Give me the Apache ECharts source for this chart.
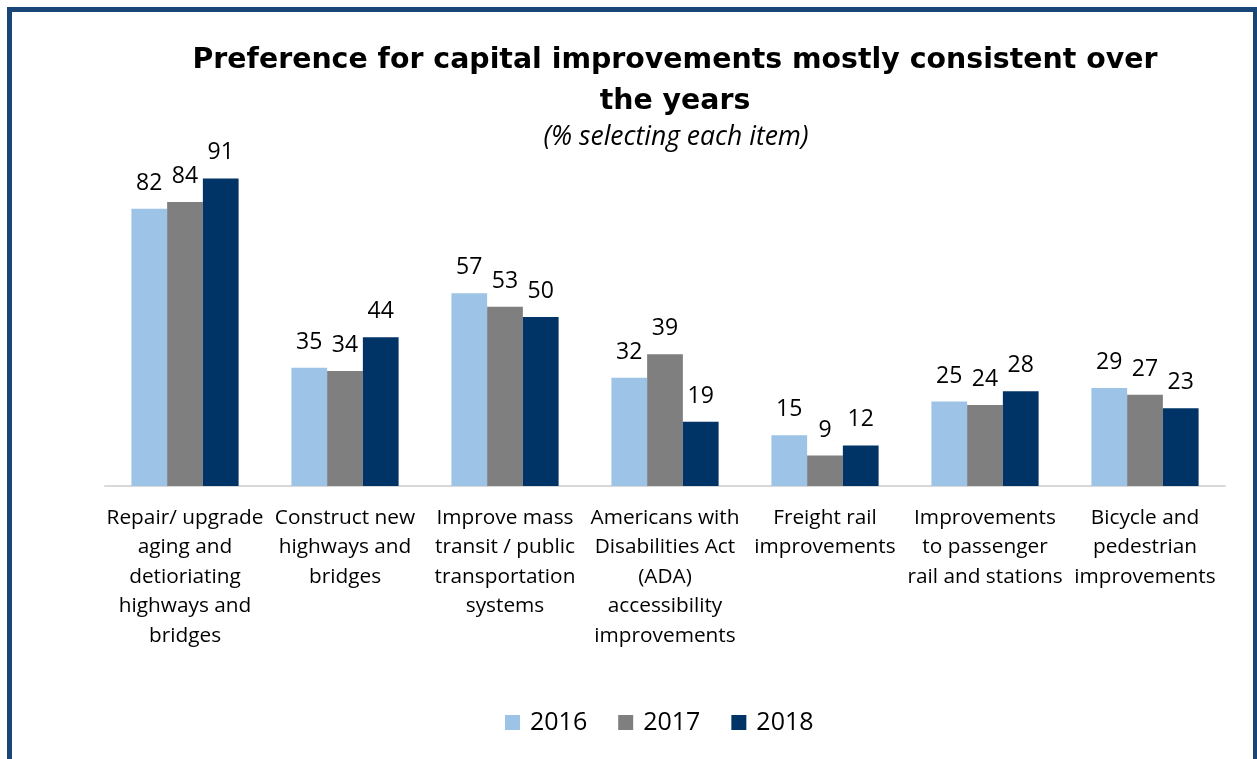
<html>
<head>
    <title></title>
    <meta charset="utf-8">
    <script src="https://cdn.jsdelivr.net/npm/echarts@6/dist/echarts.min.js" type="text/javascript"></script>
    <style>
        html, body { margin: 0; padding: 0; background: #fff; }
    </style>
</head>
<body>
    <div id="main" style="width: 1257px; height: 759px">
    </div>
    <script>
        var categories = [
            'Repair/ upgrade\naging and\ndetioriating\nhighways and\nbridges',
            'Construct new\nhighways and\nbridges',
            'Improve mass\ntransit / public\ntransportation\nsystems',
            'Americans with\nDisabilities Act\n(ADA)\naccessibility\nimprovements',
            'Freight rail\nimprovements',
            'Improvements\nto passenger\nrail and stations',
            'Bicycle and\npedestrian\nimprovements'
        ];
        var years = ['2016', '2017', '2018'];
        var data2016 = [82, 35, 57, 32, 15, 25, 29];
        var data2017 = [84, 34, 53, 39, 9, 24, 27];
        var data2018 = [91, 44, 50, 19, 12, 28, 23];
        var colors = ['#9DC3E6', '#7F7F7F', '#003366'];

        window.onload = function () {
            var myChart = echarts.init(document.getElementById('main'));

            var values = [data2016, data2017, data2018];
            var series = [];
            for (var i = 0; i < years.length; i++) {
                series.push({
                    name: years[i],
                    type: 'bar',
                    data: values[i],
                    barGap: '0%',
                    barCategoryGap: '33%',
                    itemStyle: { color: colors[i] },
                    label: {
                        show: true,
                        position: 'top',
                        distance: 14,
                        color: '#000',
                        fontSize: 23,
                        fontFamily: 'Open Sans'
                    }
                });
            }

            var option = {
                backgroundColor: '#fff',
                animation: false,
                title: [{
                    text: 'Preference for capital improvements mostly consistent over\nthe years',
                    left: 670,
                    top: 35,
                    textAlign: 'center',
                    textStyle: {
                        fontFamily: 'DejaVu Sans',
                        fontWeight: 'bold',
                        fontSize: 28.4,
                        lineHeight: 41,
                        color: '#000'
                    }
                }, {
                    text: '(% selecting each item)',
                    left: 671,
                    top: 119,
                    textAlign: 'center',
                    textStyle: {
                        fontFamily: 'Open Sans',
                        fontStyle: 'italic',
                        fontWeight: 'normal',
                        fontSize: 26.5,
                        color: '#000'
                    }
                }],
                legend: {
                    data: years,
                    left: 500,
                    top: 705,
                    itemWidth: 15,
                    itemHeight: 15,
                    itemGap: 31,
                    icon: 'rect',
                    textStyle: { fontFamily: 'Open Sans', fontSize: 25, color: '#000', padding: [0, 0, 0, 5] }
                },
                grid: {
                    left: 105,
                    width: 1120,
                    top: 148,
                    height: 338
                },
                xAxis: {
                    type: 'category',
                    data: categories,
                    axisTick: { show: false },
                    axisLine: { lineStyle: { color: '#D9D9D9', width: 2 } },
                    axisLabel: {
                        interval: 0,
                        margin: 17,
                        fontFamily: 'Open Sans',
                        fontSize: 20.8,
                        lineHeight: 29.5,
                        color: '#000'
                    }
                },
                yAxis: {
                    type: 'value',
                    min: 0,
                    max: 100,
                    show: false,
                    splitLine: { show: false }
                },
                graphic: [{
                    type: 'rect',
                    shape: { x: 9.5, y: 9.5, width: 1246, height: 800 },
                    style: { fill: 'none', stroke: '#174677', lineWidth: 5 },
                    silent: true
                }],
                series: series
            };
            myChart.setOption(option);
        }
    </script>
</body>
</html>
